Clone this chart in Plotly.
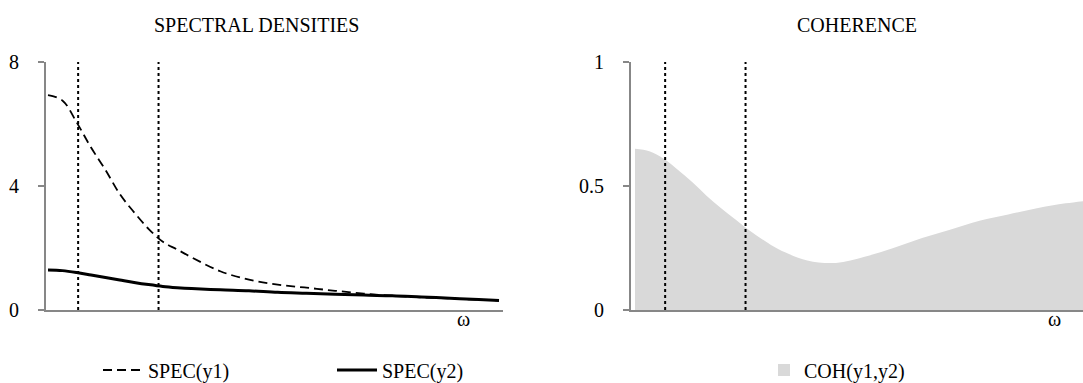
import plotly.graph_objects as go

# ---------------- data ----------------
omega = [0, 0.1, 0.2, 0.3, 0.4, 0.5, 0.6, 0.7, 0.8, 0.9, 1.0, 1.2, 1.4,
         1.6, 1.8, 2.0, 2.2, 2.4, 2.6, 2.8, 3.0, 3.1416]
spec_y1 = [6.93, 6.76, 6.05, 5.24, 4.52, 3.74, 3.15, 2.62, 2.20, 1.95, 1.70,
           1.25, 0.98, 0.82, 0.72, 0.62, 0.53, 0.46, 0.41, 0.37, 0.33, 0.31]
spec_y2 = [1.29, 1.27, 1.21, 1.13, 1.05, 0.97, 0.89, 0.82, 0.76, 0.72, 0.69,
           0.65, 0.62, 0.57, 0.54, 0.51, 0.48, 0.46, 0.42, 0.38, 0.34, 0.31]
coh_y1_y2 = [0.65, 0.64, 0.61, 0.565, 0.515, 0.46, 0.41, 0.365, 0.32, 0.28,
             0.245, 0.20, 0.19, 0.215, 0.25, 0.29, 0.325, 0.36, 0.385, 0.41,
             0.43, 0.44]
band_bounds = [0.21, 0.77]          # business-cycle band (dotted lines)
spec_ticks = [0, 4, 8]
coh_ticks = [0, 0.5, 1]
coh_tick_text = ["0", "0.5", "1"]

# ---------------- style ----------------
W, H = 1083, 383
FONT = "Liberation Serif, Times New Roman, serif"
FS = 20
AXC = "#878787"
FILL = "#d9d9d9"

def px(v, total):
    return v / total

fig = go.Figure()

fig.add_trace(go.Scatter(
    x=omega, y=spec_y1, mode="lines", name="SPEC(y1)",
    line=dict(color="black", width=1.8, dash="9px,5px", shape="spline"),
    xaxis="x", yaxis="y", legend="legend"))
fig.add_trace(go.Scatter(
    x=omega, y=spec_y2, mode="lines", name="SPEC(y2)",
    line=dict(color="black", width=3, shape="spline"),
    xaxis="x", yaxis="y", legend="legend"))
fig.add_trace(go.Scatter(
    x=omega, y=coh_y1_y2, mode="lines", name="COH(y1,y2)",
    fill="tozeroy", fillcolor=FILL, showlegend=False,
    line=dict(color=FILL, width=0, shape="spline"),
    xaxis="x2", yaxis="y2", legend="legend2"))
# legend entry for the coherence area (square swatch)
fig.add_trace(go.Scatter(
    x=[None], y=[None], mode="markers", name="COH(y1,y2)",
    marker=dict(symbol="square", size=12, color=FILL),
    xaxis="x2", yaxis="y2", legend="legend2"))

# dotted band lines
for b in band_bounds:
    fig.add_shape(type="line", xref="x", yref="y", x0=b, x1=b, y0=0, y1=8,
                  line=dict(color="black", width=2, dash="dot"))
    fig.add_shape(type="line", xref="x2", yref="y2", x0=b, x1=b, y0=0, y1=1,
                  line=dict(color="black", width=2, dash="dot"))

ydom = [1 - 310 / H, 1 - 62 / H]
common_x = dict(showline=True, linecolor=AXC, linewidth=2, showticklabels=False,
                ticks="", showgrid=False, zeroline=False)
common_y = dict(showline=True, linecolor=AXC, linewidth=2, ticks="outside",
                ticklen=6, tickwidth=2, tickcolor=AXC, showgrid=False,
                zeroline=False, ticklabelstandoff=15,
                tickfont=dict(family=FONT, size=FS, color="black"))

fig.update_layout(
    width=W, height=H,
    margin=dict(l=0, r=0, t=0, b=0, autoexpand=False),
    paper_bgcolor="white", plot_bgcolor="white",
    font=dict(family=FONT, size=FS, color="black"),
    xaxis=dict(domain=[px(46, W), px(503, W)], range=[-0.0139, 3.1694], **common_x),
    yaxis=dict(domain=ydom, range=[0, 8], tickvals=spec_ticks, anchor="x", **common_y),
    xaxis2=dict(domain=[px(631, W), 1.0], range=[-0.0279, 3.1207], anchor="y2", **common_x),
    yaxis2=dict(domain=ydom, range=[0, 1], tickvals=coh_ticks, ticktext=coh_tick_text,
                anchor="x2", **common_y),
    legend=dict(orientation="h", x=px(98, W), y=1 - 370 / H, yanchor="middle",
                xanchor="left", entrywidth=179, bgcolor="rgba(0,0,0,0)",
                font=dict(family=FONT, size=FS, color="black"), itemwidth=40),
    legend2=dict(orientation="h", x=px(764, W), y=1 - 370 / H, yanchor="middle",
                 xanchor="left", bgcolor="rgba(0,0,0,0)",
                 font=dict(family=FONT, size=FS, color="black")),
    showlegend=True,
)

fig.add_annotation(text="SPECTRAL DENSITIES", xref="paper", yref="paper",
                   x=px(256, W), y=1 - 25 / H, showarrow=False,
                   xanchor="center", yanchor="middle",
                   font=dict(family=FONT, size=FS))
fig.add_annotation(text="COHERENCE", xref="paper", yref="paper",
                   x=px(857, W), y=1 - 25 / H, showarrow=False,
                   xanchor="center", yanchor="middle",
                   font=dict(family=FONT, size=FS))
fig.add_annotation(text="ω", xref="paper", yref="paper",
                   x=px(463, W), y=1 - 319 / H, showarrow=False,
                   xanchor="center", yanchor="middle",
                   font=dict(family=FONT, size=FS))
fig.add_annotation(text="ω", xref="paper", yref="paper",
                   x=px(1054, W), y=1 - 319 / H, showarrow=False,
                   xanchor="center", yanchor="middle",
                   font=dict(family=FONT, size=FS))

fig.write_html("out.html",
               config={"displayModeBar": False},
               post_script="document.body.style.margin='0px';"
                           "document.body.style.overflow='hidden';")
